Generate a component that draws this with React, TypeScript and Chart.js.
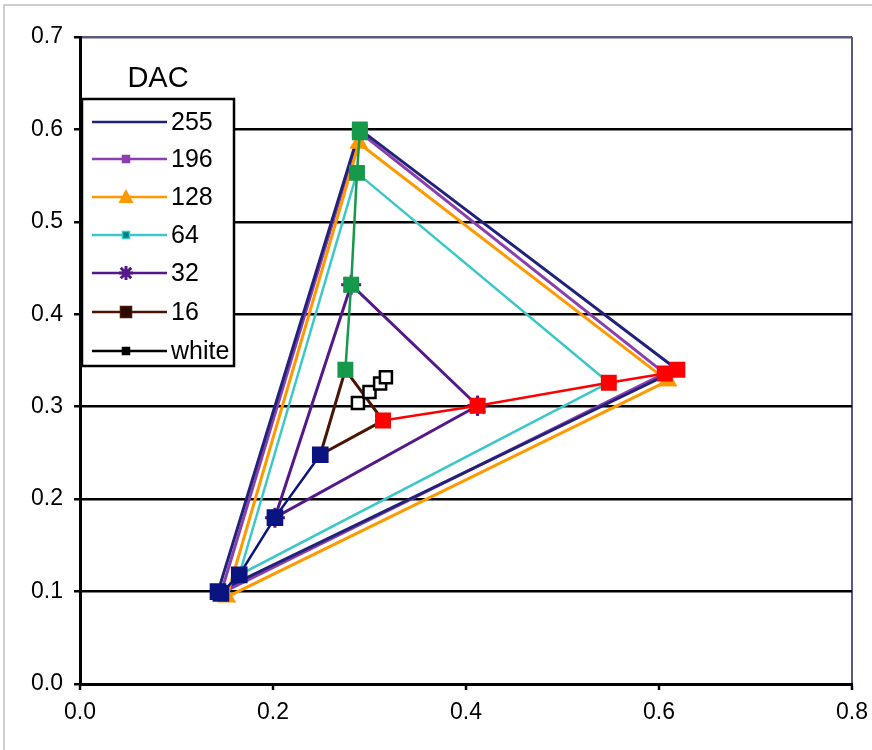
import React, { useEffect, useRef } from "react";
import { Chart, registerables } from "chart.js";

Chart.register(...registerables);

// ---- data (chromaticity x, y) : vertices R, G, B, back to R ----
const seriesLabels = ["255", "196", "128", "64", "32", "16", "white"];

const dac255X = [0.619, 0.290, 0.143, 0.619];
const dac255Y = [0.340, 0.600, 0.100, 0.340];
const dac196X = [0.606, 0.290, 0.146, 0.606];
const dac196Y = [0.336, 0.597, 0.098, 0.336];
const dac128X = [0.609, 0.289, 0.152, 0.609];
const dac128Y = [0.328, 0.585, 0.094, 0.328];
const dac64X = [0.548, 0.287, 0.165, 0.548];
const dac64Y = [0.326, 0.553, 0.118, 0.326];
const dac32X = [0.412, 0.281, 0.202, 0.412];
const dac32Y = [0.301, 0.432, 0.180, 0.301];
const dac16X = [0.314, 0.275, 0.249, 0.314];
const dac16Y = [0.285, 0.340, 0.248, 0.285];
const whiteX = [0.288, 0.300, 0.311, 0.317];
const whiteY = [0.304, 0.316, 0.325, 0.332];

const xTickValues = [0, 0.2, 0.4, 0.6, 0.8];
const yTickValues = [0, 0.1, 0.2, 0.3, 0.4, 0.5, 0.6, 0.7];

// ---- styles ----
const seriesColors = ["#22227a", "#8a3fb0", "#ff9900", "#3cc8c8", "#55188a", "#4a1505", "#000000"];
const redColor = "#ff0000";
const greenColor = "#16994a";
const blueColor = "#0a1480";
const FONT = "'Liberation Sans', Arial, sans-serif";

const pts = (xs: number[], ys: number[]) => xs.map((x, i) => ({ x, y: ys[i] }));

export default function App() {
  const ref = useRef<HTMLCanvasElement>(null);

  useEffect(() => {
    const canvas = ref.current;
    if (!canvas) return;

    // primaries measured at DAC 16, 32, 64, 196, 255
    const tri = [
      [dac16X, dac16Y],
      [dac32X, dac32Y],
      [dac64X, dac64Y],
      [dac196X, dac196Y],
      [dac255X, dac255Y],
    ];
    const primary = (k: number) => pts(tri.map((t) => t[0][k]), tri.map((t) => t[1][k]));

    const lineDs = (label: string, data: any[], color: string, extra: any) => ({
      label,
      data,
      showLine: true,
      fill: false,
      tension: 0,
      borderColor: color,
      borderWidth: 3,
      pointBackgroundColor: color,
      pointBorderColor: color,
      pointHoverRadius: 0,
      ...extra,
    });

    const datasets: any[] = [
      lineDs("R", primary(0), redColor, { pointStyle: "rect", pointRadius: 9.5, borderWidth: 2.5, order: 0 }),
      lineDs("G", primary(1), greenColor, { pointStyle: "rect", pointRadius: 9.5, borderWidth: 2.5, order: 0 }),
      lineDs("B", primary(2), blueColor, { pointStyle: "rect", pointRadius: 10, borderWidth: 2.5, order: 0 }),
      lineDs(seriesLabels[0], pts(dac255X, dac255Y), seriesColors[0], { pointRadius: 0, order: 2 }),
      lineDs(seriesLabels[1], pts(dac196X, dac196Y), seriesColors[1], { pointStyle: "rect", pointRadius: 4, order: 2 }),
      lineDs(seriesLabels[2], pts(dac128X, dac128Y), seriesColors[2], { pointStyle: "triangle", pointRadius: 8, order: 1 }),
      lineDs(seriesLabels[3], pts(dac64X, dac64Y), seriesColors[3], { pointStyle: "rect", pointRadius: 4, pointBackgroundColor: "#008080", borderWidth: 2.5, order: 2 }),
      lineDs(seriesLabels[4], pts(dac32X, dac32Y), seriesColors[4], { pointStyle: "star", pointRadius: 10, pointBorderWidth: 3, order: 1 }),
      lineDs(seriesLabels[5], pts(dac16X, dac16Y), seriesColors[5], { pointStyle: "rect", pointRadius: 7, order: 1 }),
      lineDs(seriesLabels[6], pts(whiteX, whiteY), seriesColors[6], {
        pointStyle: "rect",
        pointRadius: 8.5,
        pointBackgroundColor: "#ffffff",
        pointBorderColor: "#000000",
        pointBorderWidth: 2.5,
        borderWidth: 2.5,
        order: -1,
      }),
    ];

    const bgPlugin = {
      id: "bg",
      beforeDraw(chart: any) {
        const c = chart.ctx;
        c.save();
        c.fillStyle = "#ffffff";
        c.fillRect(0, 0, chart.width, chart.height);
        c.strokeStyle = "#cfcfcf";
        c.lineWidth = 2;
        c.beginPath();
        c.moveTo(4, chart.height);
        c.lineTo(4, 5);
        c.lineTo(chart.width, 5);
        c.stroke();
        c.restore();
      },
    };

    const drawMarker = (c: CanvasRenderingContext2D, kind: string, x: number, y: number, color: string, fill: string) => {
      c.save();
      c.fillStyle = fill;
      c.strokeStyle = color;
      c.lineWidth = 1.5;
      if (kind === "smallsq") {
        c.fillRect(x - 3.5, y - 3.5, 7, 7);
        c.strokeRect(x - 3.5, y - 3.5, 7, 7);
      } else if (kind === "sq") {
        c.fillRect(x - 5.5, y - 5.5, 11, 11);
        c.strokeRect(x - 5.5, y - 5.5, 11, 11);
      } else if (kind === "tri") {
        c.beginPath();
        c.moveTo(x, y - 8);
        c.lineTo(x + 7.5, y + 6);
        c.lineTo(x - 7.5, y + 6);
        c.closePath();
        c.fill();
      } else if (kind === "star") {
        c.lineWidth = 3;
        c.beginPath();
        const r = 7;
        c.moveTo(x - r, y); c.lineTo(x + r, y);
        c.moveTo(x, y - r); c.lineTo(x, y + r);
        c.moveTo(x - r * 0.75, y - r * 0.75); c.lineTo(x + r * 0.75, y + r * 0.75);
        c.moveTo(x - r * 0.75, y + r * 0.75); c.lineTo(x + r * 0.75, y - r * 0.75);
        c.stroke();
      }
      c.restore();
    };

    const legendMarkers = ["", "smallsq", "tri", "smallsq", "star", "sq", "smallsq"];
    const legendFills = ["", seriesColors[1], seriesColors[2], "#008080", seriesColors[4], "#2a0a00", "#000000"];

    const legendPlugin = {
      id: "dacLegend",
      afterDraw(chart: any) {
        const c: CanvasRenderingContext2D = chart.ctx;
        const bx = 82, by = 99, bw = 152, bh = 267;
        c.save();
        c.fillStyle = "#ffffff";
        c.fillRect(bx, by, bw, bh);
        c.strokeStyle = "#000000";
        c.lineWidth = 2.5;
        c.strokeRect(bx, by, bw, bh);
        c.fillStyle = "#000000";
        c.font = `29px ${FONT}`;
        c.textAlign = "center";
        c.textBaseline = "alphabetic";
        c.fillText("DAC", bx + bw / 2, 87);
        const rowY = [122, 159, 197, 235, 273, 312, 351];
        c.font = `25px ${FONT}`;
        c.textAlign = "left";
        c.textBaseline = "middle";
        seriesLabels.forEach((lab, i) => {
          const y = rowY[i];
          c.strokeStyle = seriesColors[i];
          c.lineWidth = 2.5;
          c.beginPath();
          c.moveTo(92, y);
          c.lineTo(167, y);
          c.stroke();
          if (legendMarkers[i]) drawMarker(c, legendMarkers[i], 126, y, seriesColors[i], legendFills[i]);
          c.fillStyle = "#000000";
          c.fillText(lab, 171, y + 1);
        });
        c.restore();
      },
    };

    const near = (a: number, b: number) => Math.abs(a - b) < 1e-6;

    const chart = new Chart(canvas, {
      type: "scatter",
      data: { datasets },
      options: {
        animation: false,
        responsive: false,
        devicePixelRatio: 1,
        layout: { padding: { top: 37, right: 20, left: 0, bottom: 0 } },
        plugins: { legend: { display: false }, tooltip: { enabled: false } },
        events: [],
        scales: {
          x: {
            type: "linear",
            min: xTickValues[0],
            max: xTickValues[xTickValues.length - 1],
            afterBuildTicks: (s: any) => {
              s.ticks = xTickValues.map((v) => ({ value: v }));
            },
            afterFit: (s: any) => {
              s.height = 66;
              s.paddingLeft = 0;
              s.paddingRight = 0;
            },
            ticks: {
              callback: (v: any) => Number(v).toFixed(1),
              color: "#000000",
              font: { family: FONT, size: 23 },
              padding: 9,
              maxRotation: 0,
            },
            grid: {
              drawOnChartArea: true,
              color: (c: any) => (c.tick && near(c.tick.value, 0.8) ? "#5a5a80" : "rgba(0,0,0,0)"),
              lineWidth: 2,
              tickColor: "#000000",
              tickWidth: 2.5,
              tickLength: 6,
            },
            border: { display: true, color: "#000000", width: 3 },
          },
          y: {
            type: "linear",
            min: yTickValues[0],
            max: yTickValues[yTickValues.length - 1],
            afterBuildTicks: (s: any) => {
              s.ticks = yTickValues.map((v) => ({ value: v }));
            },
            afterFit: (s: any) => {
              s.width = 80;
              s.paddingTop = 0;
              s.paddingBottom = 0;
            },
            ticks: {
              callback: (v: any) => Number(v).toFixed(1),
              color: "#000000",
              font: { family: FONT, size: 23 },
              padding: 11,
            },
            grid: {
              color: (c: any) => (c.tick && near(c.tick.value, 0.7) ? "#5a5a80" : "#000000"),
              lineWidth: 2.5,
              tickColor: "#000000",
              tickWidth: 2.5,
              tickLength: 6,
            },
            border: { display: true, color: "#000000", width: 3 },
          },
        },
      } as any,
      plugins: [bgPlugin, legendPlugin],
    });

    return () => chart.destroy();
  }, []);

  return (
    <div style={{ position: "absolute", left: 0, top: 0, width: 872, height: 750, background: "#fff" }}>
      <canvas ref={ref} width={872} height={750} style={{ width: 872, height: 750, display: "block" }} />
    </div>
  );
}
